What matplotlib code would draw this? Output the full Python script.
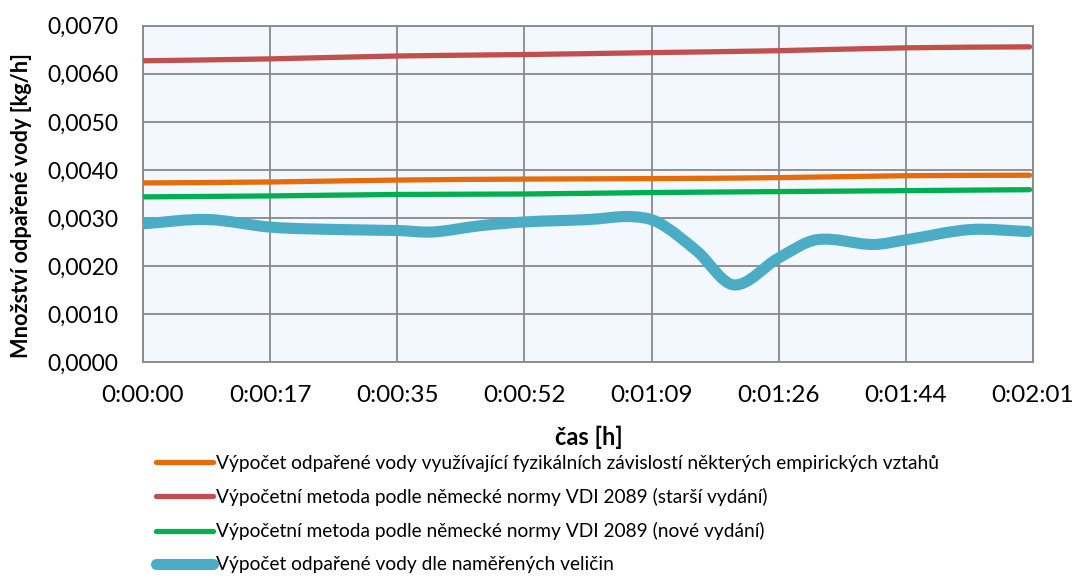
import matplotlib
matplotlib.use("Agg")
import matplotlib.pyplot as plt
from matplotlib.path import Path
from matplotlib.patches import PathPatch
from matplotlib.lines import Line2D
import numpy as np

# time axis in seconds, ticks every 0.0002 day (17.28 s)
tick_pos = [0, 17.28, 34.56, 51.84, 69.12, 86.4, 103.68, 120.96]
tick_labels = ["0:00:00", "0:00:17", "0:00:35", "0:00:52",
               "0:01:09", "0:01:26", "0:01:44", "0:02:01"]
y_ticks = [0.0, 0.001, 0.002, 0.003, 0.004, 0.005, 0.006, 0.007]

# calculated series (kg/h)
t_calc = [0, 17.28, 34.56, 51.84, 69.12, 86.4, 103.68, 120.5]
empiric = [0.00373, 0.00375, 0.00379, 0.00381, 0.00382, 0.00384, 0.00388, 0.00389]
vdi_old = [0.00627, 0.00631, 0.00637, 0.00640, 0.00644, 0.00648, 0.00654, 0.00656]
vdi_new = [0.00344, 0.00346, 0.00349, 0.00350, 0.00353, 0.00355, 0.00357, 0.00359]

# measured series (kg/h)
t_meas = [0, 8.7, 17.4, 26.8, 34.7, 39.4, 45.8, 52.0, 60.7, 66.2, 70.0,
          75.3, 80.3, 86.4, 91.6, 99.2, 103.8, 112.4, 120.3]
measured = [0.00288, 0.00297, 0.00281, 0.00276, 0.00274, 0.00271, 0.00284,
            0.00292, 0.00297, 0.00303, 0.00291, 0.00231, 0.00161, 0.00217,
            0.00255, 0.00245, 0.00255, 0.00276, 0.00272]

labels = [
    "Výpočet odpařené vody využívající fyzikálních závislostí některých empirických vztahů",
    "Výpočetní metoda podle německé normy VDI 2089 (starší vydání)",
    "Výpočetní metoda podle německé normy VDI 2089 (nové vydání)",
    "Výpočet odpařené vody dle naměřených veličin",
]
colors = ["#E46C0A", "#C0504D", "#00B050", "#4BACC6"]
widths = [3.8, 3.8, 3.8, 8.0]

font = ["Lato", "DejaVu Sans"]


def smooth_path(x, y):
    # cubic bezier segments through the points (like a smoothed excel line)
    x = np.asarray(x, float)
    y = np.asarray(y, float)
    m = np.gradient(y, x)
    m[1:-1] = (y[2:] - y[:-2]) / (x[2:] - x[:-2])
    verts = [(x[0], y[0])]
    codes = [Path.MOVETO]
    for i in range(len(x) - 1):
        h = (x[i + 1] - x[i]) / 3
        verts += [(x[i] + h, y[i] + m[i] * h),
                  (x[i + 1] - h, y[i + 1] - m[i + 1] * h),
                  (x[i + 1], y[i + 1])]
        codes += [Path.CURVE4] * 3
    return Path(verts, codes)


fig = plt.figure(figsize=(10.77, 5.77), dpi=100)
ax = fig.add_axes([143 / 1077, 1 - 362.3 / 577, 890 / 1077, 336.6 / 577])
ax.set_facecolor("#F3F7FE")

series = [(t_calc, empiric), (t_calc, vdi_old), (t_calc, vdi_new), (t_meas, measured)]
for (tx, ty), c, w in zip(series, colors, widths):
    ax.add_patch(PathPatch(smooth_path(tx, ty), fill=False, edgecolor=c,
                           lw=w, capstyle="round", joinstyle="round", zorder=3))

ax.set_xlim(0, 120.96)
ax.set_ylim(0, 0.007)
ax.set_xticks(tick_pos)
ax.set_xticklabels(tick_labels, family=font, fontsize=17.5)
ax.set_yticks(y_ticks)
ax.set_yticklabels([f"{v:.4f}".replace(".", ",") for v in y_ticks],
                   family=font, fontsize=16.5)
ax.tick_params(axis="both", length=0, colors="black")
ax.tick_params(axis="y", pad=18)
ax.tick_params(axis="x", pad=16)
ax.grid(True, color="#898989", lw=1.3)
ax.set_axisbelow(True)
for s in ax.spines.values():
    s.set_color("#898989")
    s.set_linewidth(1.3)

fig.text(22 / 1077, 1 - 206 / 577, "Množství odpařené vody [kg/h]", family=font,
         fontsize=15.7, fontweight="bold", rotation=90, ha="center", va="center")
fig.text(589 / 1077, 1 - 437 / 577, "čas [h]", family=font, fontsize=17,
         fontweight="bold", ha="center", va="center")

handles = [Line2D([], [], color=c, lw=w, solid_capstyle="round")
           for c, w in zip(colors, widths)]
fig.legend(handles, labels, loc="upper left",
           bbox_to_anchor=(156 / 1077, 1 - 455 / 577),
           frameon=False, prop={"family": font, "size": 13.8},
           handlelength=2.95, handletextpad=0.16, labelspacing=0.84,
           borderpad=0, borderaxespad=0)

fig.savefig("out.png", dpi=100)
